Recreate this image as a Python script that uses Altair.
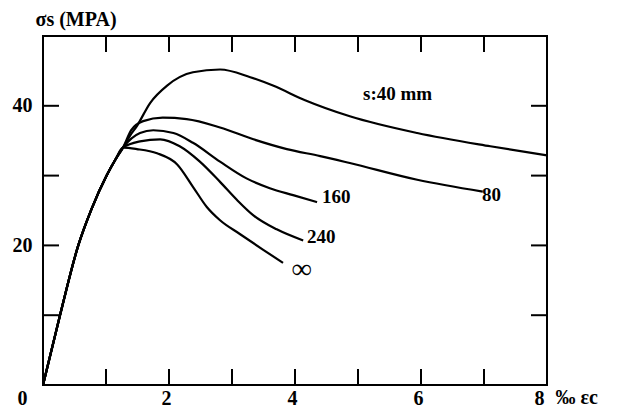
import altair as alt
import pandas as pd

# ---- data ----
rise_x = [0, 0.27, 0.56, 0.77, 1.01, 1.15, 1.27]
rise_y = [0, 10, 20, 25.2, 30, 32.3, 34.0]

s40_x = [1.38, 1.49, 1.70, 1.97, 2.38, 2.81, 3.29, 3.65, 4.16, 4.87, 5.94, 7.1, 8.0]
s40_y = [35.7, 37.1, 40.4, 42.9, 44.8, 45.2, 44.1, 42.9, 40.8, 38.5, 36.1, 34.2, 32.9]

s80_x = [1.4, 1.59, 1.90, 2.28, 2.81, 3.34, 3.87, 4.40, 4.87, 5.94, 6.98]
s80_y = [36.5, 37.8, 38.3, 38.1, 36.9, 35.2, 33.8, 32.8, 31.8, 29.4, 27.7]

s160_x = [1.54, 1.75, 2.07, 2.38, 2.81, 3.23, 3.60, 3.97, 4.35]
s160_y = [36.1, 36.5, 36.1, 34.7, 32.0, 29.6, 28.2, 27.2, 26.2]

s240_x = [1.54, 1.86, 2.17, 2.49, 2.81, 3.08, 3.34, 3.71, 4.13]
s240_y = [34.9, 35.2, 34.2, 32.0, 29.1, 26.5, 24.3, 22.3, 20.7]

sinf_x = [1.49, 1.81, 2.13, 2.38, 2.6, 2.81, 3.13, 3.49, 3.81]
sinf_y = [33.8, 33.2, 31.6, 28.4, 25.5, 23.6, 21.6, 19.4, 17.5]

series = {"40": (s40_x, s40_y), "80": (s80_x, s80_y), "160": (s160_x, s160_y),
          "240": (s240_x, s240_y), "inf": (sinf_x, sinf_y)}

label_text = ["s:40 mm", "160", "80", "240"]
label_x = [5.08, 4.43, 6.97, 4.19]
label_y = [41.7, 27.0, 27.2, 21.2]

inf_text = ["∞"]
inf_x = [3.95]
inf_y = [16.5]

x_ticks = [1, 2, 3, 4, 5, 6, 7]
y_ticks = [10, 20, 30, 40]
x_labels = [0, 2, 4, 6, 8]
y_labels = [20, 40]

rows = []
for name, (xs_, ys_) in series.items():
    allx = rise_x + xs_
    ally = rise_y + ys_
    for i, (a, b) in enumerate(zip(allx, ally)):
        rows.append({"s": name, "i": i, "x": a, "y": b})
df = pd.DataFrame(rows)

W, H = 504, 349
TL = 16
FONT = "Liberation Serif"

xs = alt.Scale(domain=[0, 8], nice=False, zero=False)
ys = alt.Scale(domain=[0, 50], nice=False, zero=False)

x_axis = alt.Axis(
    values=x_labels, title="‰ εc", titleX=512, titleY=12, titleAlign="left",
    titleBaseline="middle", labelPadding=3, labelBaseline="top",
    labelOffset={"condition": {"test": "datum.value == 0", "value": -26}, "value": -3})
y_axis = alt.Axis(
    values=y_labels, title="σs (MPA)", titleAngle=0, titleX=-8, titleY=-17,
    titleAlign="left", titleBaseline="middle", labelPadding=11)

X = alt.X("x:Q", scale=xs, axis=x_axis)
Y = alt.Y("y:Q", scale=ys, axis=y_axis)

lines = alt.Chart(df).mark_line(color="black", strokeWidth=2.2, interpolate="monotone").encode(
    x=X, y=Y, detail="s:N", order="i:Q")

xt = pd.DataFrame({"x": x_ticks})
yt = pd.DataFrame({"y": y_ticks})

bottom = alt.Chart(xt).mark_rule(color="black", strokeWidth=2).encode(
    x=X, y=alt.value(H), y2=alt.value(H - TL))
top = alt.Chart(xt).mark_rule(color="black", strokeWidth=2).encode(
    x=X, y=alt.value(0), y2=alt.value(TL))
left = alt.Chart(yt).mark_rule(color="black", strokeWidth=2).encode(
    y=Y, x=alt.value(0), x2=alt.value(TL))
right = alt.Chart(yt).mark_rule(color="black", strokeWidth=2).encode(
    y=Y, x=alt.value(W), x2=alt.value(W - TL))

lab_df = pd.DataFrame({"t": label_text, "x": label_x, "y": label_y})
labels = alt.Chart(lab_df).mark_text(align="left", baseline="middle", font=FONT,
                                     fontWeight="bold", fontSize=19, color="black").encode(
    x=X, y=Y, text="t:N")

inf_df = pd.DataFrame({"t": inf_text, "x": inf_x, "y": inf_y})
inf = alt.Chart(inf_df).mark_text(align="left", baseline="middle", font=FONT,
                                  fontWeight="bold", fontSize=28, color="black").encode(
    x=X, y=Y, text="t:N")

chart = alt.layer(lines, bottom, top, left, right, labels, inf).properties(
    width=W, height=H,
    autosize=alt.AutoSizeParams(type="none"),
    padding={"left": 35, "top": 28, "right": 60, "bottom": 24},
    background="white",
).configure_view(stroke="black", strokeWidth=2).configure_axis(
    domain=False, ticks=False, grid=False,
    labelFont=FONT, labelFontSize=20, labelFontWeight="bold", labelColor="black",
    titleFont=FONT, titleFontSize=20, titleFontWeight="bold", titleColor="black",
)

chart.save("out.html", embed_options={"renderer": "svg", "actions": False})
